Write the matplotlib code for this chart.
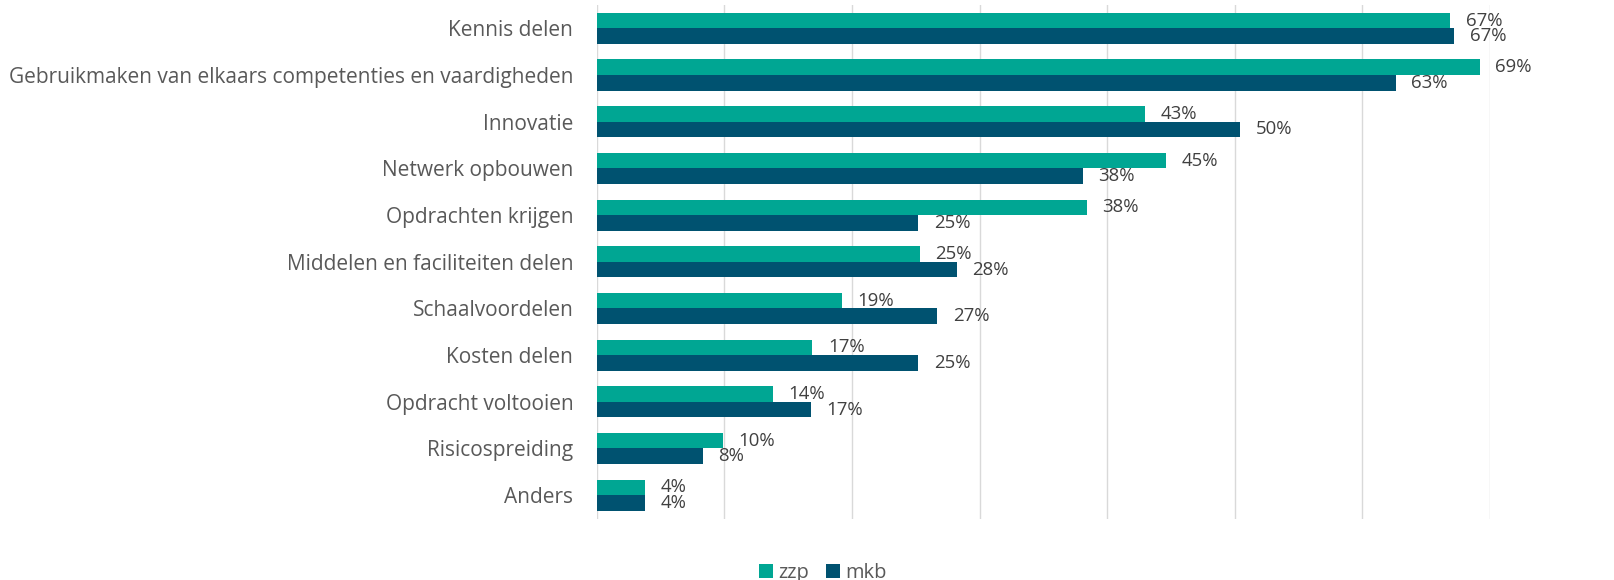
import matplotlib
matplotlib.use("Agg")
import matplotlib.pyplot as plt

categories = [
    "Kennis delen",
    "Gebruikmaken van elkaars competenties en vaardigheden",
    "Innovatie",
    "Netwerk opbouwen",
    "Opdrachten krijgen",
    "Middelen en faciliteiten delen",
    "Schaalvoordelen",
    "Kosten delen",
    "Opdracht voltooien",
    "Risicospreiding",
    "Anders",
]
zzp = [66.9, 69.2, 43.0, 44.6, 38.4, 25.3, 19.2, 16.9, 13.8, 9.9, 3.8]
mkb = [67.2, 62.6, 50.4, 38.1, 25.2, 28.2, 26.7, 25.2, 16.8, 8.3, 3.8]
series_names = ["zzp", "mkb"]
grid_ticks = [0, 10, 20, 30, 40, 50, 60, 70]

c_zzp = "#00A693"
c_mkb = "#005270"

fig = plt.figure(figsize=(16.14, 5.8), dpi=100)
ax = fig.add_axes([596.7 / 1614, 1 - 518.5 / 580, (1490 - 596.7) / 1614, (518.5 - 5) / 580])

h = 0.333
ys = list(range(len(categories)))
b1 = ax.barh([y - h / 2 for y in ys], zzp, height=h, color=c_zzp, label=series_names[0], zorder=2)
b2 = ax.barh([y + h / 2 for y in ys], mkb, height=h, color=c_mkb, label=series_names[1], zorder=2)

for bars, vals in ((b1, zzp), (b2, mkb)):
    for rect, v in zip(bars, vals):
        ax.annotate(f"{v:.0f}%", (v, rect.get_y() + rect.get_height() / 2),
                    xytext=(11.2, 0), textcoords="offset points",
                    ha="left", va="center", fontsize=13.4, color="#404040",
                    family="Open Sans", zorder=3)

ax.set_xlim(0, 70)
ax.set_ylim(len(categories) - 0.5, -0.5)
ax.set_xticks(grid_ticks)
ax.set_xticklabels([])
ax.set_yticks(ys)
ax.set_yticklabels(categories, family="Open Sans", fontsize=15.0, color="#595959")
ax.tick_params(axis="both", length=0, pad=16.8)
ax.grid(axis="x", color="#D9D9D9", linewidth=1.0)
ax.grid(axis="y", visible=False)
ax.set_axisbelow(True)
for s in ax.spines.values():
    s.set_visible(False)

leg = fig.legend(handles=[b1, b2], labels=series_names, loc="center",
                 bbox_to_anchor=(823 / 1614, 1 - 573 / 580), ncol=2, frameon=False,
                 prop={"family": "Open Sans", "size": 14.4},
                 handlelength=0.7, handleheight=0.7, handletextpad=0.25,
                 columnspacing=0.85, borderpad=0, labelcolor="#595959")

fig.savefig("out.png", dpi=100)
